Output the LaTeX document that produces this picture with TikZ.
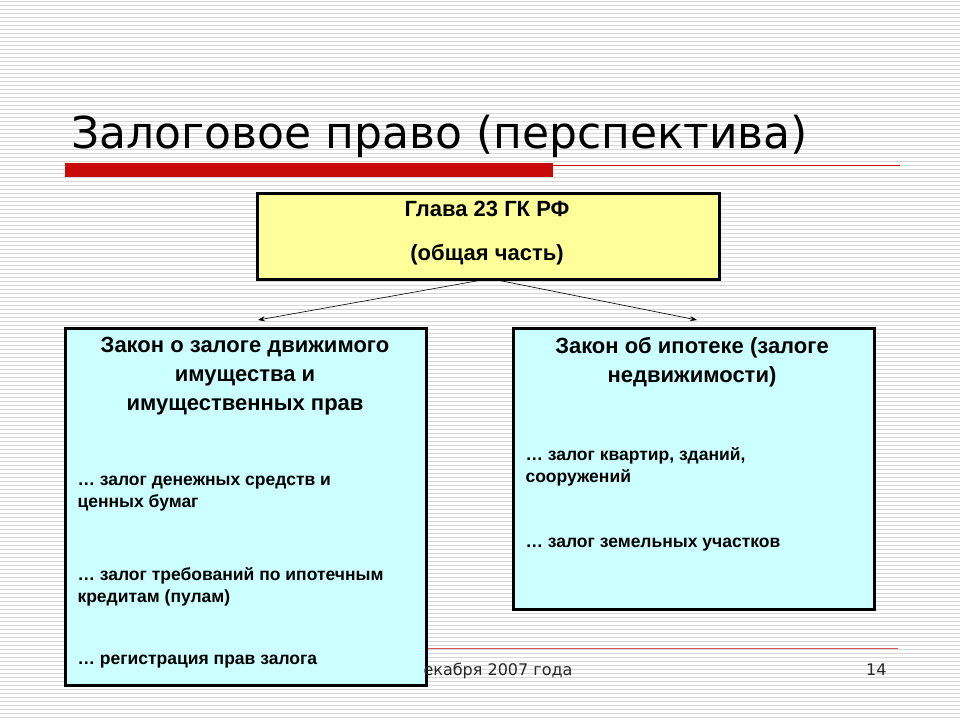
\documentclass[tikz,border=0pt]{standalone}
\usepackage{fontspec}
\setmainfont{Liberation Sans}
\newfontfamily\titlefont{DejaVu Sans}
\usetikzlibrary{arrows.meta}
\definecolor{stripe}{RGB}{215,215,215}
\definecolor{redbar}{RGB}{200,10,10}
\definecolor{ybox}{RGB}{255,255,153}
\definecolor{cbox}{RGB}{204,255,255}
\tikzset{
  box/.style={draw=black, line width=2.8pt, inner sep=0pt},
  head/.style={font=\bfseries\fontsize{22}{29}\selectfont, align=center, anchor=north},
  item/.style={font=\bfseries\fontsize{17.5}{22}\selectfont, align=left, anchor=north west},
  conn/.style={-{Stealth[length=7pt,width=5pt]}, line width=0.6pt}
}
\begin{document}
\begin{tikzpicture}[x=1pt,y=-1pt]
\useasboundingbox (0,0) rectangle (960,720);
\fill[white] (0,0) rectangle (960,720);
\foreach \i in {0,...,179}{\draw[stripe, line width=1pt] (0,\i*4+1) -- (960,\i*4+1);}
\node[font=\titlefont\fontsize{44}{50}\selectfont, anchor=base west] (title) at (68,148) {Залоговое право (перспектива)};
\fill[redbar] (65,163) rectangle (553,177);
\draw[redbar, line width=0.8pt] (553,165) -- (900,165);
\draw[redbar!70, line width=0.8pt] (420,648) -- (898,648);
\node[box, fill=ybox, minimum width=462pt, minimum height=86pt, anchor=north west] (top) at (256,192) {};
\node[head] (t1) at (487,198) {Глава 23 ГК РФ};
\node[head] (t2) at (487,241) {(общая часть)};
\node[box, fill=cbox, minimum width=361pt, minimum height=357pt, anchor=north west] (left) at (64,327) {};
\node[box, fill=cbox, minimum width=361pt, minimum height=281pt, anchor=north west] (right) at (512,327) {};
\coordinate (s1) at (482,280); \coordinate (e1) at (258,320);
\coordinate (s2) at (497,280); \coordinate (e2) at (697,320);
\draw[conn] (s1) -- (e1);
\draw[conn] (s2) -- (e2);
\node[head] (l1) at (245,334) {Закон о залоге движимого\\имущества и\\имущественных прав};
\node[item] (l2) at (74,473) {… залог денежных средств и\\ценных бумаг};
\node[item] (l3) at (74,564) {… залог требований по ипотечным\\кредитам (пулам)};
\node[item] (l4) at (74,652) {… регистрация прав залога};
\node[head] (r1) at (692,334) {Закон об ипотеке (залоге\\недвижимости)};
\node[item] (r2) at (522,444) {… залог квартир, зданий,\\сооружений};
\node[item] (r3) at (522,535) {… залог земельных участков};
\node[font=\titlefont\fontsize{16}{18}\selectfont, text=black!85, anchor=base west] (foot) at (420,675) {екабря 2007 года};
\node[font=\titlefont\fontsize{16}{18}\selectfont, text=black!85, anchor=base east] (num) at (890,675) {14};
\end{tikzpicture}
\end{document}
